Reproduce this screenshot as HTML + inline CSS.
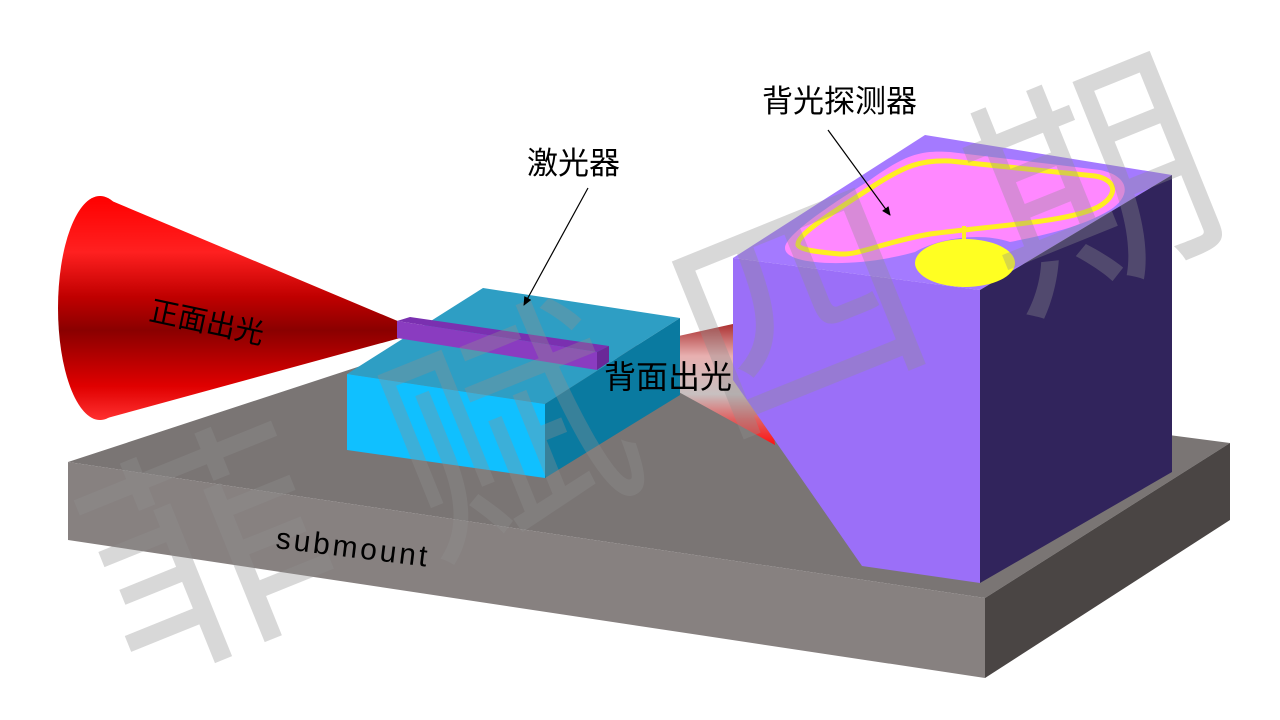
<!DOCTYPE html>
<html><head><meta charset="utf-8"><style>
html,body{margin:0;padding:0;background:#fff;}
svg{display:block;}
text{font-family:"Liberation Sans","Noto Sans CJK SC",sans-serif;}
</style></head><body>
<svg width="1280" height="720" viewBox="0 0 1280 720" xmlns="http://www.w3.org/2000/svg">
<defs>
<linearGradient id="cone" x1="0" y1="0" x2="0" y2="1">
<stop offset="0" stop-color="#ff0000"/><stop offset="0.25" stop-color="#ff2020"/>
<stop offset="0.45" stop-color="#c00000"/><stop offset="0.6" stop-color="#8a0000"/>
<stop offset="0.85" stop-color="#e00000"/><stop offset="1" stop-color="#ff3030"/></linearGradient>
<linearGradient id="bcone" x1="0" y1="0" x2="0" y2="1">
<stop offset="0" stop-color="#a01818"/><stop offset="0.3" stop-color="#e8b0b0"/>
<stop offset="0.6" stop-color="#c8c0c0"/><stop offset="0.8" stop-color="#e06060"/><stop offset="1" stop-color="#ff1010"/></linearGradient>
<marker id="ar" markerWidth="10" markerHeight="10" refX="8" refY="5" orient="auto" markerUnits="userSpaceOnUse">
<path d="M0,1 L9,5 L0,9 Z" fill="#000"/></marker>
</defs>
<polygon points="68,462 440,340 1230,443 985,598" fill="#7a7574"/>
<polygon points="68,462 985,598 985,678 68,540" fill="#878180"/>
<polygon points="985,598 1230,443 1230,520 985,678" fill="#4a4544"/>
<polygon points="100,196 400,322 400,338 100,420" fill="url(#cone)"/>
<ellipse cx="100" cy="308" rx="42" ry="112" fill="url(#cone)"/>
<polygon points="606,352 760,318 775,445" fill="url(#bcone)"/>
<polygon points="347,374 483,288 680,318 545,404" fill="#2e9ec4"/>
<polygon points="347,374 545,404 545,478 347,450" fill="#10c0ff"/>
<polygon points="545,404 680,318 680,395 545,478" fill="#0a7aa0"/>
<polygon points="397,321 410,317 609,346 597,352" fill="#7a30b0"/>
<polygon points="397,321 597,352 597,370 397,338" fill="#8a3cc0"/>
<polygon points="597,352 609,346 609,362 597,370" fill="#6a2898"/>
<polygon points="733,258 925,135 1172,175 980,290" fill="#a47aff"/>
<polygon points="733,258 980,290 980,583 862,566 733,380" fill="#9b6ff8"/>
<polygon points="980,290 1172,175 1172,472 980,583" fill="#31245c"/>
<path d="M785,248 C785,235 830,205 870,180 C905,155 920,150 950,152 L1100,170 C1130,176 1132,196 1110,210 C1080,228 1040,236 1010,242 C980,232 940,238 915,252 C880,262 840,265 815,262 C795,260 785,255 785,248 Z" fill="#ff88ff"/>
<path d="M798,245 C796,234 840,208 875,185 C905,166 920,160 950,161 L1095,176 C1118,180 1118,196 1098,207 C1068,222 1000,225 930,234 C880,243 860,255 840,254 C818,252 800,250 798,245 Z" fill="none" stroke="#ffee22" stroke-width="5"/>
<line x1="964" y1="226" x2="964" y2="242" stroke="#ffee22" stroke-width="4"/>
<ellipse cx="965" cy="263" rx="50" ry="24" fill="#ffff22"/>
<g fill="#909090" fill-opacity="0.35" font-size="240">
<text x="80" y="640" transform="rotate(-22 200 530)">菲</text>
<text x="380" y="520" transform="rotate(-22 500 410)">赋</text>
<text x="670" y="400" transform="rotate(-22 790 290)">四</text>
<text x="960" y="270" transform="rotate(-22 1090 150)">期</text>
</g>
<text x="527" y="174" font-size="31">激光器</text>
<line x1="588" y1="188" x2="524" y2="305" stroke="#000" stroke-width="1.2" marker-end="url(#ar)"/>
<text x="762" y="112" font-size="31">背光探测器</text>
<line x1="828" y1="130" x2="890" y2="215" stroke="#000" stroke-width="1.2" marker-end="url(#ar)"/>
<text x="148" y="320" font-size="29" transform="rotate(12 148 320)">正面出光</text>
<text x="604" y="388" font-size="32">背面出光</text>
<text x="275" y="548" font-size="30" textLength="152" transform="rotate(7 275 548)">submount</text>
</svg>
</body></html>
